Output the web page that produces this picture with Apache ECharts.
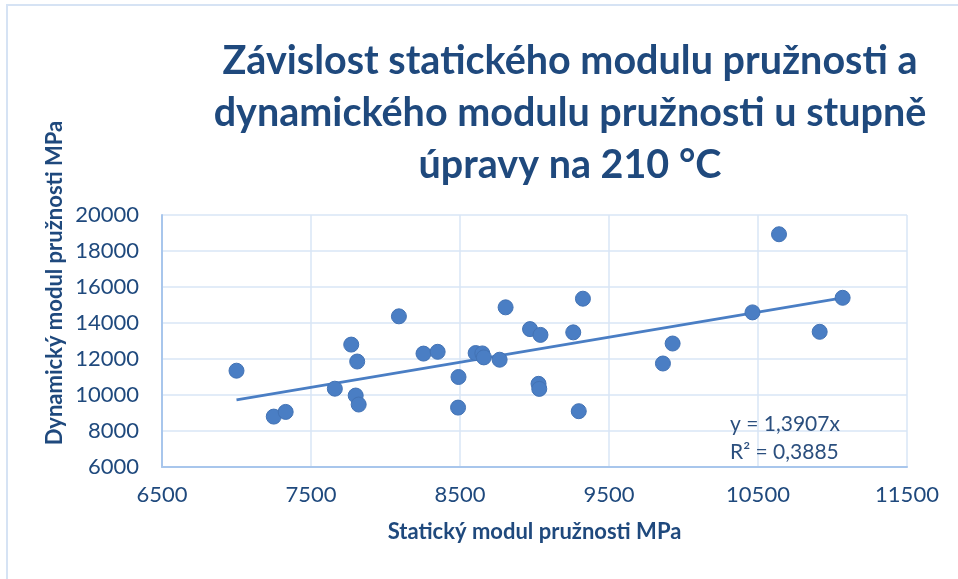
<!DOCTYPE html>
<html>
<head>
<meta charset="utf-8">
<script src="https://cdn.jsdelivr.net/npm/echarts@6/dist/echarts.min.js"></script>
<style>
  html, body { margin: 0; padding: 0; background: #ffffff; }
  #chart { width: 958px; height: 579px; }
</style>
</head>
<body>
<div id="chart"></div>
<script>
// statický modul (x) a dynamický modul (y), MPa
const staticModulus = [7000, 7250, 7330, 7660, 7770, 7810, 7800, 7820, 8090, 8255, 8350,
  8490, 8487, 8605, 8650, 8660, 8766, 8806, 8970, 9040, 9027, 9032, 9260, 9325, 9297,
  9862, 9927, 10463, 10641, 10914, 11068];
const dynamicModulus = [11350, 8800, 9060, 10350, 12800, 11860, 9970, 9470, 14370, 12300, 12400,
  11000, 9300, 12330, 12310, 12090, 11960, 14870, 13660, 13340, 10620, 10340, 13480, 15350, 9100,
  11750, 12860, 14590, 18930, 13510, 15400];
const xTicks = [6500, 7500, 8500, 9500, 10500, 11500];
const yTicks = [6000, 8000, 10000, 12000, 14000, 16000, 18000, 20000];
const slope = 1.3907;
const rSquared = "0,3885";

const points = staticModulus.map((x, i) => [x, dynamicModulus[i]]);
const xMin = Math.min(...staticModulus);
const xMax = Math.max(...staticModulus);
const trend = [[xMin, slope * xMin], [xMax, slope * xMax]];

const textColor = "#1f497d";
const font = "Lato, 'Open Sans', sans-serif";

const chart = echarts.init(document.getElementById("chart"));
chart.setOption({
  backgroundColor: "#ffffff",
  animation: false,
  title: {
    text: "Závislost statického modulu pružnosti a\ndynamického modulu pružnosti u stupně\núpravy na 210 °C",
    left: 565,
    top: 30,
    textAlign: "center",
    textStyle: {
      fontFamily: font,
      fontWeight: "bold",
      fontSize: 39.5,
      lineHeight: 52,
      color: textColor,
    },
  },
  grid: {
    left: 162,
    right: 51,
    top: 215,
    bottom: 112,
  },
  xAxis: {
    type: "value",
    min: xTicks[0],
    max: xTicks[xTicks.length - 1],
    interval: 1000,
    name: "Statický modul pružnosti MPa",
    nameLocation: "middle",
    nameGap: 54,
    nameTextStyle: {
      fontFamily: font,
      fontWeight: "bold",
      fontSize: 22,
      color: textColor,
    },
    axisLine: { lineStyle: { color: "#a8c6ec", width: 2 } },
    axisTick: { show: false },
    axisLabel: {
      margin: 17,
      fontFamily: font,
      fontSize: 22,
      color: textColor,
      formatter: (v) => String(v),
    },
    splitLine: { lineStyle: { color: "#d9e6f6", width: 1.5 } },
  },
  yAxis: {
    type: "value",
    min: yTicks[0],
    max: yTicks[yTicks.length - 1],
    interval: 2000,
    axisLine: { show: true, lineStyle: { color: "#a8c6ec", width: 2 } },
    axisTick: { show: false },
    axisLabel: {
      margin: 23,
      fontFamily: font,
      fontSize: 22,
      color: textColor,
      formatter: (v) => String(v),
    },
    splitLine: { lineStyle: { color: "#d9e6f6", width: 1.5 } },
  },
  graphic: [
    {
      type: "polyline",
      shape: { points: [[7, 579], [7, 5], [958, 5]] },
      style: { stroke: "#d6e3f4", lineWidth: 2, fill: null },
      silent: true,
    },
    {
      type: "text",
      x: 55,
      y: 283,
      rotation: Math.PI / 2,
      style: {
        text: "Dynamický modul pružnosti MPa",
        font: "bold 22px " + font,
        fill: textColor,
        align: "center",
        verticalAlign: "middle",
      },
    },
    {
      type: "text",
      left: 730,
      top: 410,
      z: 10,
      style: {
        text: "y = " + String(slope).replace(".", ",") + "x\nR² = " + rSquared,
        font: "21px " + font,
        lineHeight: 28,
        fill: "#2b4f7e",
      },
    },
  ],
  series: [
    {
      name: "trend",
      type: "line",
      data: trend,
      symbol: "none",
      lineStyle: { color: "#4a7ec4", width: 2.8 },
      z: 3,
    },
    {
      name: "data",
      type: "scatter",
      data: points,
      symbolSize: 15,
      itemStyle: { color: "#4a7ec4", opacity: 1, borderColor: "#4373b5", borderWidth: 1 },
      z: 4,
    },
  ],
});
</script>
</body>
</html>
